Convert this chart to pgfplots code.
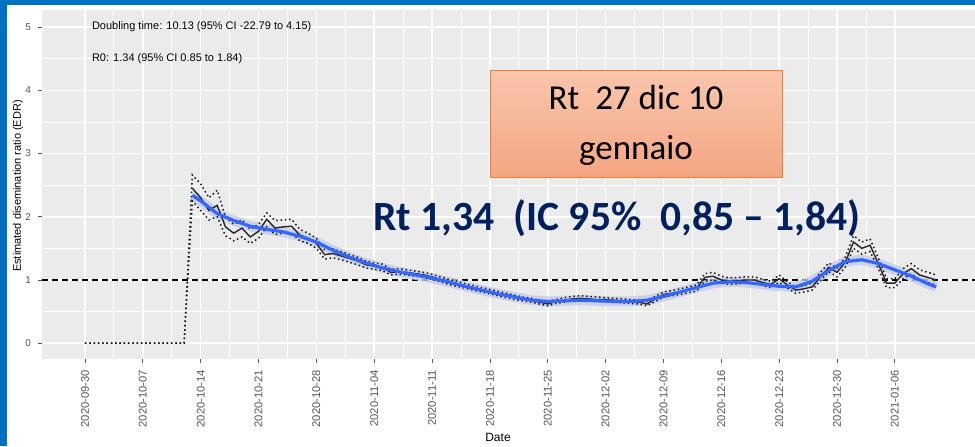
\documentclass[border=0pt]{standalone}
\usepackage{pgfplots}
\pgfplotsset{compat=1.18}
\usepackage{pgfplotstable}
\usepackage{fontspec}
\setmainfont{Liberation Sans}
\newfontfamily\calibri{Carlito}

\definecolor{slideblue}{HTML}{0070C0}
\definecolor{panelgray}{HTML}{EBEBEB}
\definecolor{smoothblue}{HTML}{3366FF}
\definecolor{ribbon}{HTML}{C4CCE6}
\definecolor{navy}{HTML}{002060}
\definecolor{boxedge}{HTML}{ED7D31}
\definecolor{boxtop}{HTML}{F9C6AD}
\definecolor{boxbot}{HTML}{F4A682}
\definecolor{ticktext}{HTML}{555555}

% day 0 = 2020-09-30
\pgfplotstableread{
d r lo hi
0 nan 0 0
12 nan 0 0
13 2.45 2.25 2.66
14 2.30 2.10 2.52
15 2.10 1.95 2.30
16 2.18 2.00 2.42
17 1.84 1.70 2.00
18 1.74 1.62 1.88
19 1.82 1.68 1.95
20 1.68 1.58 1.80
21 1.77 1.66 1.88
22 1.96 1.84 2.06
23 1.82 1.72 1.94
24 1.84 1.74 1.95
25 1.85 1.75 1.96
26 1.71 1.62 1.80
27 1.66 1.58 1.74
28 1.58 1.50 1.66
29 1.40 1.33 1.48
30 1.42 1.35 1.49
31 1.38 1.32 1.45
32 1.34 1.28 1.40
33 1.30 1.24 1.36
34 1.24 1.19 1.30
35 1.22 1.17 1.27
36 1.20 1.15 1.25
37 1.12 1.08 1.17
38 1.13 1.09 1.18
39 1.12 1.08 1.16
40 1.10 1.06 1.14
41 1.08 1.04 1.12
42 1.05 1.01 1.09
43 1.01 0.97 1.05
44 0.97 0.93 1.01
45 0.94 0.90 0.98
46 0.90 0.87 0.94
47 0.87 0.84 0.91
48 0.84 0.81 0.88
49 0.81 0.78 0.85
50 0.78 0.75 0.82
51 0.75 0.72 0.79
52 0.72 0.69 0.76
53 0.70 0.67 0.73
54 0.68 0.65 0.71
55 0.65 0.62 0.68
56 0.62 0.59 0.66
57 0.66 0.63 0.69
58 0.68 0.65 0.72
59 0.70 0.67 0.74
60 0.71 0.68 0.75
61 0.70 0.67 0.74
62 0.69 0.66 0.73
63 0.69 0.66 0.72
64 0.68 0.65 0.71
65 0.67 0.64 0.70
66 0.66 0.63 0.69
67 0.65 0.62 0.68
68 0.62 0.59 0.66
69 0.70 0.66 0.74
70 0.77 0.73 0.81
71 0.79 0.75 0.83
72 0.81 0.77 0.86
73 0.84 0.80 0.89
74 0.87 0.82 0.92
75 1.04 0.98 1.10
76 1.06 1.00 1.12
77 1.00 0.95 1.06
78 0.98 0.93 1.03
79 0.99 0.94 1.04
80 1.00 0.95 1.05
81 1.00 0.95 1.05
82 0.96 0.91 1.01
83 0.93 0.88 0.98
84 1.02 0.96 1.08
85 0.92 0.87 0.97
86 0.84 0.79 0.89
87 0.86 0.81 0.91
88 0.89 0.84 0.95
89 1.05 0.99 1.12
90 1.20 1.13 1.27
91 1.12 1.05 1.19
92 1.28 1.20 1.36
93 1.60 1.50 1.70
94 1.50 1.41 1.60
95 1.55 1.45 1.65
96 1.26 1.18 1.35
97 0.95 0.88 1.02
98 0.95 0.88 1.02
99 1.10 1.02 1.18
100 1.18 1.10 1.26
101 1.08 1.00 1.16
102 1.04 0.96 1.12
103 1.00 0.92 1.08
}\rdata

% loess smooth
\pgfplotstableread{
d s
13 2.34
14 2.25
16 2.05
18 1.94
20 1.85
22 1.80
24 1.76
26 1.69
28 1.60
30 1.47
32 1.36
34 1.27
36 1.19
38 1.13
40 1.08
42 1.03
44 0.97
46 0.90
48 0.84
50 0.78
52 0.73
54 0.68
56 0.66
58 0.67
60 0.68
62 0.67
64 0.66
66 0.66
68 0.68
70 0.74
72 0.81
74 0.88
76 0.95
78 0.97
80 0.96
82 0.93
84 0.90
86 0.89
88 0.98
90 1.15
92 1.29
94 1.32
96 1.26
98 1.16
100 1.06
102 0.94
103 0.89
}\sdata

\begin{document}
\begin{tikzpicture}
% 1 px of the 975x446 reference = 0.5pt
\fill[white] (0,0) rectangle (487.5pt,223pt);
\path[use as bounding box] (0,0) rectangle (487.5pt,223pt);

\begin{axis}[
    at={(21pt,43.5pt)}, anchor=south west,
    scale only axis, width=466.5pt, height=174.5pt,
    xmin=-5.2, xmax=107.7, ymin=-0.25, ymax=5.27,
    axis background/.style={fill=panelgray},
    axis line style={draw=none},
    xtick={0,7,...,98},
    xticklabels={2020-09-30,2020-10-07,2020-10-14,2020-10-21,2020-10-28,2020-11-04,2020-11-11,2020-11-18,2020-11-25,2020-12-02,2020-12-09,2020-12-16,2020-12-23,2020-12-30,2021-01-06},
    ytick={0,1,2,3,4,5},
    minor x tick num=1, minor y tick num=1,
    grid=both,
    major grid style={white, line width=0.8pt},
    minor grid style={white, line width=0.4pt},
    tick align=outside, major tick length=2pt, minor tick length=0pt,
    tick style={gray!70!black, line width=0.4pt},
    xtick pos=bottom, ytick pos=left,
    xticklabel style={rotate=90, anchor=east, font=\fontsize{5.6}{6}\selectfont, text=ticktext},
    yticklabel style={font=\fontsize{5}{6}\selectfont, text=ticktext},
    /pgf/number format/assume math mode=true,
    clip=true,
]
\addplot[black, dashed, dash pattern=on 3pt off 2pt, line width=0.7pt, forget plot] coordinates {(-5.2,1) (107.7,1)};
\addplot[ribbon, line width=5pt, opacity=0.8] table[x=d, y=s] {\sdata};
\addplot[black!85, line width=0.7pt, unbounded coords=jump] table[x=d, y=r] {\rdata};
\addplot[black!90, line width=0.75pt, dash pattern=on 0.75pt off 1.4pt] table[x=d, y=hi] {\rdata};
\addplot[black!90, line width=0.75pt, dash pattern=on 0.75pt off 1.4pt] table[x=d, y=lo] {\rdata};
\addplot[smoothblue, line width=1.6pt] table[x=d, y=s] {\sdata};
\node[anchor=west, font=\fontsize{5.5}{6}\selectfont] at (axis cs:0,5) {Doubling time: 10.13 (95\% CI -22.79 to 4.15)};
\node[anchor=west, font=\fontsize{5.5}{6}\selectfont] at (axis cs:0,4.5) {R0: 1.34 (95\% CI 0.85 to 1.84)};
\end{axis}

% slide frame
\fill[slideblue] (0,0) rectangle (3.5pt,223pt);
\fill[slideblue] (0,220.5pt) rectangle (487.5pt,223pt);

% axis titles
\node[rotate=90, font=\fontsize{5.5}{6}\selectfont] at (9pt,130pt) {Estimated disemination ratio (EDR)};
\node[font=\fontsize{6}{7}\selectfont] at (249pt,4.5pt) {Date};

% orange box
\shade[top color=boxtop, bottom color=boxbot, draw=boxedge, line width=0.5pt] (245pt,134.5pt) rectangle (391pt,188pt);
\node[align=center, font=\calibri\fontsize{17.5}{25}\selectfont] at (318pt,160.5pt) {Rt\ \ 27 dic 10\\gennaio};

% big Rt label
\node[font=\calibri\bfseries\fontsize{20.8}{24}\selectfont, text=navy] at (308.5pt,114pt) {Rt 1,34\ \ (IC 95\%\ \ 0,85 – 1,84)};
\end{tikzpicture}
\end{document}
